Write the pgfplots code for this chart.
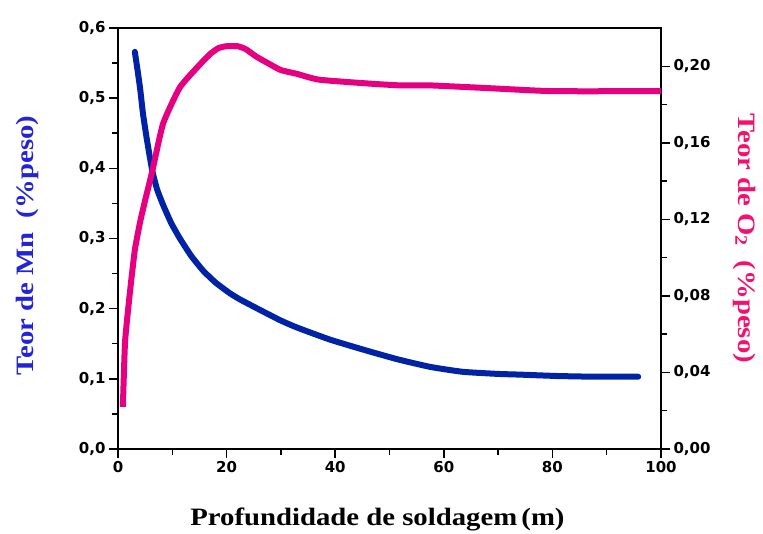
\documentclass[border=0pt]{standalone}
\usepackage{fontspec}
\setmainfont{Liberation Serif}
\newfontfamily\labfont[FakeStretch=1.15]{Liberation Serif}
\newfontfamily\tickfont{DejaVu Sans}
\usepackage{pgfplots}
\pgfplotsset{compat=1.18}
\usetikzlibrary{calc}
\definecolor{mnblue}{RGB}{0,35,165}
\definecolor{oxpink}{RGB}{228,0,128}
\definecolor{mnlab}{RGB}{35,35,215}
\definecolor{oxlab}{RGB}{245,15,110}
\begin{document}
\begin{tikzpicture}
\begin{axis}[name=ax, scale only axis, width=543pt, height=421pt,
  xmin=0, xmax=100, ymin=0, ymax=0.6,
  xtick={0,20,40,60,80,100}, ytick={0,0.1,0.2,0.3,0.4,0.5,0.6},
  minor x tick num=1, minor y tick num=1,
  xtick pos=bottom, ytick pos=left, tick align=outside,
  major tick length=9pt, minor tick length=6pt,
  axis line style={line width=1.8pt}, tick style={black, line width=1.5pt},
  tick label style={font=\tickfont\bfseries\fontsize{15}{15}\selectfont},
  /pgf/number format/assume math mode=true,
  y tick label style={/pgf/number format/.cd, use comma, fixed, fixed zerofill, precision=1},
  clip=false]
\addplot[mnblue, line width=6pt, line cap=round, line join=round, smooth, tension=0.3] coordinates {
(3.1,0.566) (3.6,0.540) (4.1,0.512) (4.6,0.478) (5.3,0.442) (6.3,0.397) (7.2,0.370) (8.3,0.348)
(9.8,0.322) (11.4,0.300) (13.5,0.275) (15.7,0.254) (18.0,0.237) (20.6,0.222) (22.5,0.213)
(26.7,0.196) (30,0.183) (33,0.173) (39,0.156) (45,0.142) (51.4,0.128) (57.5,0.117)
(63.5,0.110) (70,0.107) (74,0.106) (81,0.104) (88,0.103) (95.8,0.103)};
\end{axis}
\begin{axis}[scale only axis, width=543pt, height=421pt,
  xmin=0, xmax=100, ymin=0, ymax=0.22,
  axis x line=none, axis y line*=right,
  ytick={0,0.04,0.08,0.12,0.16,0.20}, minor y tick num=1,
  tick align=outside, major tick length=9pt, minor tick length=6pt,
  axis line style={line width=1.8pt, -}, tick style={black, line width=1.5pt},
  tick label style={font=\tickfont\bfseries\fontsize{15}{15}\selectfont},
  /pgf/number format/assume math mode=true,
  y tick label style={/pgf/number format/.cd, use comma, fixed, fixed zerofill, precision=2},
  clip=false]
\addplot[oxpink, line width=6pt, line join=round, smooth, tension=0.3] coordinates {
(0.9,0.022) (1.3,0.056) (2.2,0.082) (3.1,0.104) (4.1,0.119) (5.0,0.130) (6.3,0.145)
(8.3,0.170) (11.4,0.189) (15.1,0.201) (17,0.2065) (18.5,0.2095) (20,0.2105) (22,0.2105)
(23.5,0.209) (25.5,0.205) (28,0.201) (30,0.198) (33,0.196) (37,0.193) (46,0.191)
(52,0.190) (57.5,0.190) (68,0.1886) (80,0.187) (100,0.187)};
\end{axis}
\node[rotate=90, font=\labfont\bfseries\fontsize{25}{25}\selectfont, text=mnlab] at ($(ax.west)+(-91pt,-7pt)$) {Teor de Mn\ \ (\%peso)};
\node[rotate=-90, font=\labfont\bfseries\fontsize{25}{25}\selectfont, text=oxlab] at ($(ax.east)+(84pt,0pt)$) {Teor de O\textsubscript{2}\ \ (\%peso)};
\node[font=\labfont\bfseries\fontsize{25}{25}\selectfont, text=black] at ($(ax.south)+(-12pt,-70pt)$) {Profundidade de soldagem\,(m)};
\pgfresetboundingbox
\path ($(ax.south west)+(-118pt,-85pt)$) rectangle ($(ax.north east)+(102pt,28pt)$);
\end{tikzpicture}
\end{document}
